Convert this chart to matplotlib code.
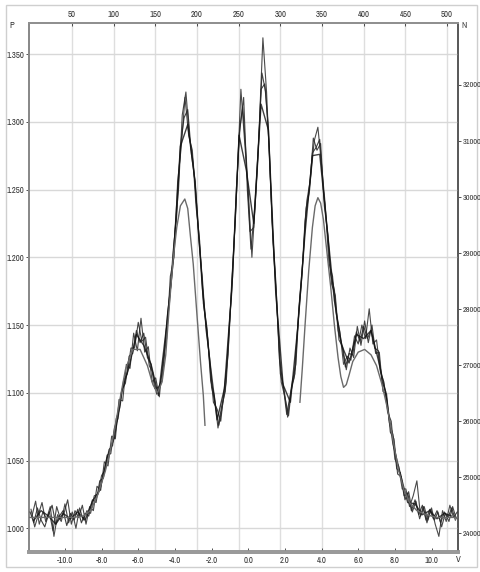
import numpy as np
import matplotlib
matplotlib.use("Agg")
import matplotlib.pyplot as plt
from matplotlib import font_manager
from matplotlib.patches import Rectangle

# ---------------- data ----------------
p_ticks = [1.000, 1.050, 1.100, 1.150, 1.200, 1.250, 1.300, 1.350]
v_ticks = [-10.0, -8.0, -6.0, -4.0, -2.0, 0.0, 2.0, 4.0, 6.0, 8.0, 10.0]
channel_ticks = [50, 100, 150, 200, 250, 300, 350, 400, 450, 500]
n_ticks = [24000, 25000, 26000, 27000, 28000, 29000, 30000, 31000, 32000]

# sampling positions (velocity) of the measured traces
trace_a_v = np.round(-11.9 + 0.2 * np.arange(117), 2)
trace_b_v = np.round(-11.8 + 0.2 * np.arange(117), 2)
trace_d_v = np.round(-11.85 + 0.2 * np.arange(117), 2)
trace_c_v = np.round(-11.7 + 0.4 * np.arange(58), 2)

trace_a = [
    1.012, 1.004, 1.015, 1.006, 1.001, 1.010, 1.017, 1.003, 1.009, 1.013,
    1.002, 1.011, 1.006, 1.014, 1.004, 1.011, 1.009, 1.021, 1.019, 1.035,
    1.037, 1.054, 1.055, 1.074, 1.081, 1.102, 1.107, 1.127, 1.129, 1.146,
    1.137, 1.144, 1.126, 1.121, 1.103, 1.104, 1.109, 1.143, 1.166, 1.204,
    1.231, 1.283, 1.303, 1.309, 1.276, 1.256, 1.214, 1.184, 1.146, 1.125,
    1.093, 1.088, 1.079, 1.104, 1.128, 1.182, 1.228, 1.290, 1.311, 1.272,
    1.219, 1.222, 1.265, 1.324, 1.328, 1.296, 1.226, 1.183, 1.125, 1.106,
    1.084, 1.099, 1.111, 1.149, 1.181, 1.227, 1.246, 1.277, 1.281, 1.287,
    1.250, 1.222, 1.187, 1.176, 1.146, 1.136, 1.119, 1.129, 1.128, 1.145,
    1.138, 1.149, 1.140, 1.146, 1.133, 1.131, 1.108, 1.101, 1.078, 1.069,
    1.044, 1.041, 1.024, 1.026, 1.013, 1.021, 1.010, 1.017, 1.006, 1.014,
    1.007, 1.013, 1.004, 1.012, 1.008, 1.015, 1.006,
]
trace_b = [
    1.009, 1.020, 1.003, 1.012, 1.007, 1.016, 0.994, 1.010, 1.005, 1.018,
    1.004, 1.012, 1.000, 1.015, 1.006, 1.013, 1.011, 1.024, 1.025, 1.039,
    1.043, 1.058, 1.061, 1.081, 1.089, 1.109, 1.114, 1.133, 1.133, 1.152,
    1.138, 1.141, 1.120, 1.115, 1.099, 1.107, 1.122, 1.159, 1.181, 1.219,
    1.251, 1.305, 1.322, 1.288, 1.270, 1.236, 1.199, 1.161, 1.139, 1.104,
    1.092, 1.076, 1.091, 1.108, 1.154, 1.203, 1.259, 1.324, 1.286, 1.249,
    1.200, 1.244, 1.296, 1.362, 1.322, 1.259, 1.201, 1.154, 1.108, 1.097,
    1.083, 1.108, 1.121, 1.169, 1.201, 1.242, 1.258, 1.286, 1.296, 1.268,
    1.239, 1.196, 1.186, 1.158, 1.145, 1.121, 1.127, 1.124, 1.142, 1.136,
    1.150, 1.140, 1.162, 1.136, 1.139, 1.116, 1.108, 1.086, 1.079, 1.051,
    1.046, 1.029, 1.029, 1.016, 1.024, 1.035, 1.009, 1.016, 1.006, 1.015,
    1.003, 0.994, 1.013, 1.005, 1.017, 1.008, 1.012,
]
trace_d = [
    1.014, 1.001, 1.010, 1.019, 1.005, 1.012, 0.998, 1.016, 1.007, 1.011,
    1.021, 1.003, 1.013, 1.008, 1.017, 1.003, 1.016, 1.013, 1.031, 1.028,
    1.049, 1.046, 1.068, 1.066, 1.095, 1.094, 1.121, 1.118, 1.144, 1.131,
    1.155, 1.130, 1.134, 1.108, 1.111, 1.097, 1.124, 1.140, 1.186, 1.200,
    1.256, 1.282, 1.318, 1.290, 1.279, 1.238, 1.212, 1.166, 1.148, 1.109,
    1.098, 1.074, 1.090, 1.101, 1.147, 1.186, 1.250, 1.296, 1.318, 1.250,
    1.206, 1.236, 1.280, 1.336, 1.322, 1.280, 1.211, 1.170, 1.114, 1.103,
    1.082, 1.104, 1.114, 1.160, 1.190, 1.236, 1.250, 1.288, 1.279, 1.284,
    1.238, 1.216, 1.180, 1.172, 1.139, 1.134, 1.117, 1.133, 1.126, 1.149,
    1.135, 1.153, 1.137, 1.150, 1.129, 1.130, 1.101, 1.099, 1.071, 1.066,
    1.040, 1.038, 1.021, 1.027, 1.012, 1.020, 1.007, 1.016, 1.004, 1.014,
    1.006, 1.012, 1.001, 1.011, 1.005, 1.016, 1.007,
]
trace_c = [
    1.006, 1.013, 1.009, 1.003, 1.011, 1.007, 1.012, 1.006, 1.020, 1.028,
    1.052, 1.067, 1.101, 1.119, 1.143, 1.135, 1.121, 1.098, 1.144, 1.196,
    1.282, 1.298, 1.256, 1.177, 1.124, 1.080, 1.103, 1.175, 1.290, 1.264,
    1.225, 1.313, 1.294, 1.174, 1.106, 1.093, 1.148, 1.218, 1.275, 1.276,
    1.222, 1.168, 1.135, 1.122, 1.143, 1.140, 1.146, 1.124, 1.100, 1.062,
    1.040, 1.019, 1.018, 1.010, 1.013, 1.007, 1.011, 1.009,
]

# fitted envelope (thin grey line), two pieces
fit_left_v = [-11.96, -9.6, -9.0, -8.6, -8.2, -7.8, -7.4, -7.0, -6.7, -6.3, -5.9,
              -5.5, -5.2, -4.95, -4.7, -4.5, -4.3, -4.1, -3.9, -3.7, -3.46,
              -3.3, -3.15, -3.0, -2.8, -2.6, -2.45, -2.36]
fit_left_p = [1.008, 1.008, 1.009, 1.013, 1.025, 1.042, 1.065, 1.095, 1.117, 1.132, 1.132,
              1.120, 1.106, 1.100, 1.108, 1.128, 1.165, 1.198, 1.222, 1.238, 1.243,
              1.236, 1.215, 1.195, 1.158, 1.122, 1.098, 1.076]
fit_right_v = [2.82, 2.95, 3.1, 3.3, 3.5, 3.65, 3.8, 3.95, 4.1, 4.3, 4.5, 4.7, 4.9,
               5.05, 5.2, 5.35, 5.5, 5.7, 6.0, 6.35, 6.7, 7.0, 7.3, 7.6, 7.9, 8.2,
               8.5, 8.8, 9.2, 9.7, 10.3, 11.46]
fit_right_p = [1.093, 1.118, 1.150, 1.190, 1.222, 1.238, 1.244, 1.240, 1.228, 1.203,
               1.178, 1.150, 1.126, 1.112, 1.104, 1.106, 1.113, 1.123, 1.130, 1.132,
               1.128, 1.120, 1.106, 1.088, 1.065, 1.043, 1.028, 1.019, 1.013, 1.010,
               1.008, 1.008]

# ---------------- styling ----------------
ttf = font_manager.fontManager.ttflist
narrow = [f.name for f in ttf if "Narrow" in f.name]
cond_dejavu = [f for f in ttf if f.name == "DejaVu Sans" and f.stretch == "condensed"]
stretch = "normal"
if narrow:
    fam, fs = narrow[0], 6.3
elif cond_dejavu:
    fam, fs, stretch = "DejaVu Sans", 5.6, "condensed"
else:
    fam, fs = "Liberation Sans", 5.4
plt.rcParams["font.family"] = [fam, "DejaVu Sans"]
plt.rcParams["font.stretch"] = stretch
plt.rcParams["axes.unicode_minus"] = False

fig = plt.figure(figsize=(4.8, 5.72), dpi=100)
fig.patch.set_facecolor("white")
fig.add_artist(Rectangle((6 / 480, 1 - 567 / 572), 471 / 480, 562 / 572,
                         transform=fig.transFigure, fill=False,
                         edgecolor="#cfcfcf", lw=1.0))

ax = fig.add_axes([29 / 480, 1 - 551.7 / 572, 429.3 / 480, 528.4 / 572])
ax_top = ax.twiny()
ax_right = ax.twinx()
ax.set_zorder(3)
ax.patch.set_visible(False)
ax_top.set_zorder(1)
ax_right.set_zorder(2)
ax_right.patch.set_visible(False)

ax.set_xlim(-11.96, 11.46)
ax.set_ylim(0.9827, 1.3727)
ax_top.set_xlim(-1.6, 513.5)
ax_right.set_ylim(23672, 33101)

grid_c = "#d8d8d8"
ax.set_yticks(p_ticks)
ax.set_yticklabels([f"{v:.3f}" for v in p_ticks])
ax.yaxis.grid(True, color=grid_c, lw=1.0)
ax.set_axisbelow(True)
ax.set_xticks(v_ticks)
ax.set_xticklabels([f"{v:.1f}" for v in v_ticks])
ax_top.set_xticks(channel_ticks)
ax_top.set_xticklabels([str(c) for c in channel_ticks])
ax_top.xaxis.grid(True, color="#dedede", lw=1.0)
ax_right.set_yticks(n_ticks)
ax_right.set_yticklabels([str(n) for n in n_ticks])

ax.tick_params(axis="y", direction="out", length=2.5, width=0.6, pad=1,
               labelsize=fs, colors="#333333")
ax.tick_params(axis="x", direction="in", length=3, width=0.6, pad=3,
               labelsize=fs, colors="#333333")
ax_top.tick_params(axis="x", direction="in", length=2.5, width=0.6, pad=3,
                   labelsize=fs, colors="#333333")
ax_right.tick_params(axis="y", direction="out", length=2, width=0.6, pad=0.8,
                     labelsize=fs * 0.93, colors="#333333")
ax_right.tick_params(axis="x", bottom=False, labelbottom=False)

for a in (ax, ax_top, ax_right):
    a.spines["left"].set_color("#8a8a8a")
    a.spines["left"].set_linewidth(1.4)
    a.spines["top"].set_color("#909090")
    a.spines["top"].set_linewidth(1.4)
    a.spines["bottom"].set_color("#9a9a9a")
    a.spines["bottom"].set_linewidth(2.6)
    a.spines["right"].set_color("#5a5a5a")
    a.spines["right"].set_linewidth(1.1)

# ---------------- data marks ----------------
ax.plot(trace_a_v, trace_a, color="#1e1e1e", lw=0.8, alpha=0.85, zorder=4)
ax.plot(trace_b_v, trace_b, color="#2a2a2a", lw=0.8, alpha=0.85, zorder=4)
ax.plot(trace_d_v, trace_d, color="#262626", lw=0.8, alpha=0.85, zorder=4)
ax.plot(trace_c_v, trace_c, color="#111111", lw=1.0, alpha=0.8, zorder=4)
ax.plot(fit_left_v, fit_left_p, color="#6a6a6a", lw=1.0, zorder=5)
ax.plot(fit_right_v, fit_right_p, color="#6a6a6a", lw=1.0, zorder=5)

# axis letters
fig.text(12 / 480, 1 - 25 / 572, "P", fontsize=fs, color="#333333", ha="center", va="center")
fig.text(464 / 480, 1 - 25 / 572, "N", fontsize=fs, color="#333333", ha="center", va="center")
fig.text(458 / 480, 1 - 560 / 572, "V", fontsize=fs, color="#333333", ha="center", va="center")

fig.savefig("out.png", dpi=100, facecolor="white")
